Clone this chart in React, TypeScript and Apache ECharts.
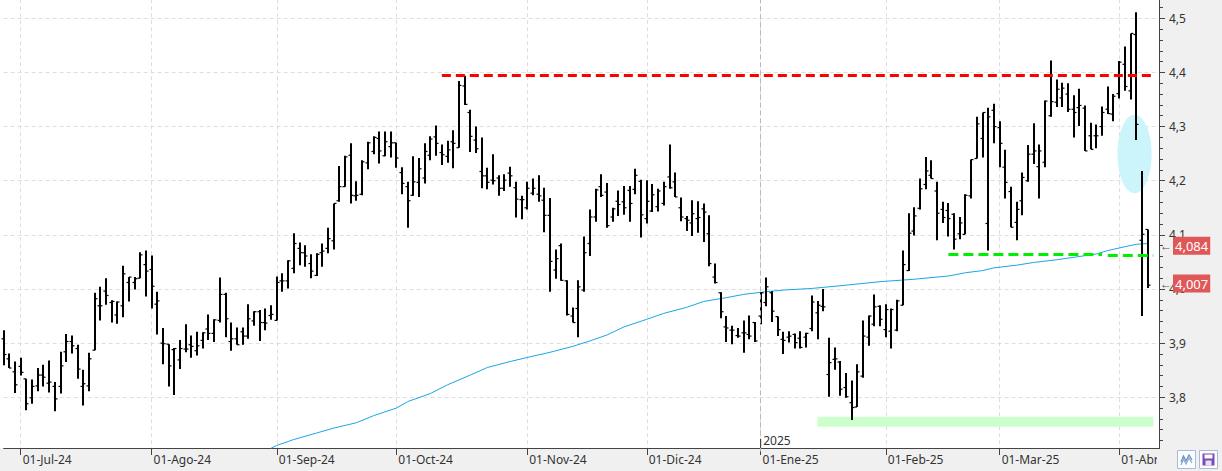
import React, { useEffect, useRef } from 'react';
import * as echarts from 'echarts';

const monthNames = ['Jun-24', 'Jul-24', 'Ago-24', 'Sep-24', 'Oct-24', 'Nov-24', 'Dic-24', 'Ene-25', 'Feb-25', 'Mar-25', 'Abr-25'];
const monthDays = [
  [26, 27, 28],
  [1, 2, 3, 4, 5, 8, 9, 10, 11, 12, 15, 16, 17, 18, 19, 22, 23, 24, 25, 26, 29, 30, 31],
  [1, 2, 5, 6, 7, 8, 9, 12, 13, 14, 15, 16, 19, 20, 21, 22, 23, 26, 27, 28, 29, 30],
  [2, 3, 4, 5, 6, 9, 10, 11, 12, 13, 16, 17, 18, 19, 20, 23, 24, 25, 26, 27, 30],
  [1, 2, 3, 4, 7, 8, 9, 10, 11, 14, 15, 16, 17, 18, 21, 22, 23, 24, 25, 28, 29, 30, 31],
  [1, 4, 5, 6, 7, 8, 11, 12, 13, 14, 15, 18, 19, 20, 21, 22, 25, 26, 27, 28, 29],
  [2, 3, 4, 5, 6, 9, 10, 11, 12, 13, 16, 17, 18, 19, 20, 23, 24, 27, 30, 31],
  [2, 3, 6, 7, 8, 9, 10, 13, 14, 15, 16, 17, 20, 21, 22, 23, 24, 27, 28, 29, 30, 31],
  [3, 4, 5, 6, 7, 10, 11, 12, 13, 14, 17, 18, 19, 20, 21, 24, 25, 26, 27, 28],
  [3, 4, 5, 6, 7, 10, 11, 12, 13, 14, 17, 18, 19, 20, 21, 24, 25, 26, 27, 28, 31],
  [1, 2, 3, 4, 7, 8],
];
const padCategories = ['pad1', 'pad2'];

const opens = [
  3.908, 3.871, 3.847, 3.857, 3.834, 3.799, 3.821, 3.841, 3.826, 3.820,
  3.820, 3.884, 3.903, 3.890, 3.820, 3.821, 3.887, 3.969, 3.996, 3.975,
  3.952, 3.969, 4.012, 4.012, 4.020, 4.045, 4.036, 3.972, 3.900, 3.898,
  3.888, 3.869, 3.889, 3.897, 3.886, 3.905, 3.926, 3.918, 3.942, 3.990,
  3.903, 3.908, 3.921, 3.913, 3.941, 3.958, 3.938, 3.951, 3.942, 4.015,
  4.015, 4.038, 4.075, 4.067, 4.047, 4.025, 4.067, 4.075, 4.089, 4.163,
  4.189, 4.247, 4.172, 4.175, 4.233, 4.254, 4.278, 4.246, 4.263, 4.270,
  4.215, 4.189, 4.173, 4.197, 4.205, 4.247, 4.281, 4.252, 4.245, 4.272,
  4.261, 4.375, 4.326, 4.275, 4.217, 4.209, 4.201, 4.205, 4.186, 4.214,
  4.187, 4.165, 4.150, 4.177, 4.175, 4.164, 4.136, 4.035, 4.080, 4.015,
  3.950, 3.964, 3.998, 4.084, 4.133, 4.189, 4.179, 4.133, 4.162, 4.161,
  4.182, 4.184, 4.199, 4.130, 4.144, 4.152, 4.158, 4.207, 4.198, 4.150,
  4.130, 4.122, 4.130, 4.148, 4.102, 4.022, 3.993, 3.930, 3.924, 3.914,
  3.919, 3.916, 3.938, 3.950, 3.975, 3.993, 3.949, 3.907, 3.911, 3.916,
  3.909, 3.911, 3.927, 3.956, 3.968, 3.842, 3.870, 3.865, 3.818, 3.790,
  3.782, 3.839, 3.911, 3.935, 3.968, 3.925, 3.922, 3.924, 3.970, 4.034,
  4.107, 4.149, 4.193, 4.210, 4.181, 4.147, 4.145, 4.138, 4.102, 4.101,
  4.172, 4.241, 4.278, 4.121, 4.330, 4.298, 4.225, 4.180, 4.123, 4.163,
  4.200, 4.249, 4.226, 4.234, 4.320, 4.345, 4.353, 4.360, 4.332, 4.335,
  4.334, 4.283, 4.283, 4.300, 4.332, 4.323, 4.361, 4.415, 4.366, 4.470,
  4.090, 4.110,
];
const highs = [
  3.924, 3.881, 3.866, 3.873, 3.834, 3.833, 3.854, 3.860, 3.868, 3.828,
  3.884, 3.917, 3.914, 3.897, 3.851, 3.882, 3.993, 4.004, 4.020, 3.979,
  3.977, 4.043, 4.022, 4.022, 4.068, 4.071, 4.062, 3.995, 3.928, 3.898,
  3.891, 3.906, 3.935, 3.914, 3.921, 3.920, 3.953, 3.944, 4.021, 3.993,
  3.938, 3.929, 3.929, 3.972, 3.959, 3.961, 3.964, 3.970, 4.023, 4.029,
  4.053, 4.103, 4.086, 4.081, 4.064, 4.066, 4.084, 4.113, 4.158, 4.227,
  4.246, 4.269, 4.199, 4.238, 4.272, 4.282, 4.291, 4.291, 4.291, 4.270,
  4.225, 4.198, 4.245, 4.242, 4.269, 4.282, 4.302, 4.267, 4.274, 4.293,
  4.384, 4.394, 4.331, 4.300, 4.280, 4.224, 4.249, 4.210, 4.212, 4.226,
  4.198, 4.172, 4.198, 4.204, 4.210, 4.187, 4.168, 4.073, 4.084, 4.016,
  3.966, 4.016, 4.097, 4.147, 4.185, 4.212, 4.196, 4.150, 4.182, 4.190,
  4.190, 4.222, 4.202, 4.201, 4.194, 4.185, 4.198, 4.267, 4.215, 4.169,
  4.135, 4.164, 4.162, 4.158, 4.136, 4.047, 3.994, 3.950, 3.932, 3.928,
  3.942, 3.951, 3.939, 3.994, 4.021, 3.996, 3.949, 3.921, 3.922, 3.918,
  3.922, 3.919, 3.988, 3.978, 4.000, 3.910, 3.892, 3.867, 3.845, 3.831,
  3.861, 3.942, 3.951, 3.990, 3.970, 3.972, 3.964, 3.980, 4.071, 4.140,
  4.151, 4.204, 4.244, 4.238, 4.198, 4.161, 4.159, 4.140, 4.133, 4.175,
  4.239, 4.318, 4.326, 4.335, 4.342, 4.310, 4.257, 4.189, 4.161, 4.215,
  4.266, 4.306, 4.267, 4.348, 4.422, 4.387, 4.381, 4.380, 4.358, 4.370,
  4.339, 4.307, 4.304, 4.337, 4.374, 4.360, 4.421, 4.448, 4.472, 4.511,
  4.218, 4.110,
];
const lows = [
  3.859, 3.854, 3.808, 3.840, 3.776, 3.788, 3.811, 3.820, 3.809, 3.774,
  3.807, 3.865, 3.881, 3.834, 3.785, 3.811, 3.887, 3.942, 3.971, 3.938,
  3.936, 3.948, 3.977, 3.999, 4.020, 3.986, 3.964, 3.916, 3.861, 3.820,
  3.804, 3.852, 3.883, 3.873, 3.877, 3.890, 3.906, 3.902, 3.938, 3.911,
  3.886, 3.897, 3.897, 3.908, 3.932, 3.904, 3.924, 3.943, 3.942, 3.995,
  4.001, 4.029, 4.044, 4.041, 4.020, 4.024, 4.041, 4.066, 4.073, 4.161,
  4.189, 4.158, 4.163, 4.173, 4.221, 4.249, 4.232, 4.245, 4.243, 4.224,
  4.175, 4.113, 4.172, 4.170, 4.195, 4.238, 4.246, 4.229, 4.233, 4.223,
  4.261, 4.340, 4.253, 4.251, 4.186, 4.184, 4.193, 4.172, 4.181, 4.189,
  4.132, 4.129, 4.147, 4.173, 4.161, 4.105, 3.995, 4.019, 4.015, 3.951,
  3.938, 3.911, 3.995, 4.061, 4.124, 4.170, 4.113, 4.124, 4.135, 4.137,
  4.124, 4.175, 4.095, 4.121, 4.142, 4.143, 4.154, 4.185, 4.170, 4.125,
  4.107, 4.098, 4.104, 4.087, 4.042, 4.010, 3.946, 3.902, 3.898, 3.910,
  3.882, 3.907, 3.902, 3.935, 3.968, 3.939, 3.913, 3.880, 3.901, 3.890,
  3.890, 3.892, 3.922, 3.907, 3.959, 3.801, 3.851, 3.803, 3.799, 3.758,
  3.782, 3.836, 3.895, 3.931, 3.931, 3.911, 3.890, 3.922, 3.970, 4.033,
  4.099, 4.147, 4.184, 4.204, 4.090, 4.122, 4.097, 4.073, 4.092, 4.101,
  4.167, 4.241, 4.243, 4.071, 4.269, 4.225, 4.167, 4.114, 4.090, 4.136,
  4.198, 4.231, 4.167, 4.225, 4.318, 4.336, 4.336, 4.327, 4.280, 4.301,
  4.255, 4.258, 4.260, 4.283, 4.323, 4.310, 4.352, 4.366, 4.350, 4.275,
  3.950, 4.002,
];
const closes = [
  3.879, 3.854, 3.823, 3.846, 3.788, 3.820, 3.841, 3.837, 3.828, 3.797,
  3.858, 3.903, 3.895, 3.852, 3.825, 3.871, 3.982, 3.969, 3.988, 3.977,
  3.976, 4.028, 4.022, 4.019, 4.063, 4.033, 4.005, 3.978, 3.899, 3.858,
  3.890, 3.890, 3.889, 3.894, 3.895, 3.919, 3.918, 3.943, 3.990, 3.945,
  3.908, 3.897, 3.913, 3.945, 3.958, 3.938, 3.937, 3.953, 4.012, 4.015,
  4.052, 4.084, 4.067, 4.061, 4.033, 4.064, 4.070, 4.093, 4.158, 4.189,
  4.244, 4.173, 4.173, 4.235, 4.270, 4.280, 4.255, 4.272, 4.270, 4.242,
  4.195, 4.163, 4.198, 4.222, 4.254, 4.277, 4.269, 4.248, 4.257, 4.269,
  4.376, 4.341, 4.282, 4.259, 4.209, 4.197, 4.200, 4.186, 4.201, 4.209,
  4.166, 4.165, 4.186, 4.186, 4.172, 4.136, 4.051, 4.056, 4.016, 3.953,
  3.938, 4.004, 4.067, 4.133, 4.183, 4.173, 4.117, 4.148, 4.156, 4.150,
  4.158, 4.210, 4.137, 4.162, 4.174, 4.181, 4.189, 4.187, 4.170, 4.133,
  4.127, 4.139, 4.132, 4.142, 4.047, 4.012, 3.958, 3.928, 3.924, 3.913,
  3.919, 3.913, 3.904, 3.993, 4.004, 3.959, 3.925, 3.905, 3.913, 3.901,
  3.892, 3.918, 3.976, 3.970, 3.967, 3.864, 3.871, 3.815, 3.801, 3.781,
  3.847, 3.913, 3.950, 3.967, 3.944, 3.962, 3.962, 3.978, 4.045, 4.103,
  4.135, 4.185, 4.218, 4.204, 4.140, 4.132, 4.130, 4.092, 4.122, 4.173,
  4.239, 4.305, 4.326, 4.318, 4.300, 4.269, 4.197, 4.114, 4.147, 4.206,
  4.249, 4.255, 4.255, 4.347, 4.346, 4.369, 4.371, 4.332, 4.326, 4.339,
  4.255, 4.258, 4.283, 4.326, 4.324, 4.356, 4.419, 4.374, 4.472, 4.304,
  4.101, 4.007,
];

// 200-day moving average (bar index / value)
const maIdx = [47, 48, 51, 55, 58, 62, 65, 69, 71, 75, 78, 82, 85, 89, 93, 96, 100, 103, 106, 109, 113, 116, 120, 123, 127, 130, 134, 137, 142, 148, 154, 160, 166, 169, 172, 174, 178, 181, 185, 188, 192, 194, 197, 199, 201];
const maVal = [3.706, 3.711, 3.722, 3.734, 3.743, 3.753, 3.766, 3.780, 3.792, 3.807, 3.823, 3.841, 3.855, 3.866, 3.876, 3.883, 3.894, 3.904, 3.915, 3.930, 3.944, 3.955, 3.966, 3.977, 3.984, 3.990, 3.995, 3.998, 4.001, 4.007, 4.0135, 4.018, 4.024, 4.030, 4.034, 4.039, 4.044, 4.049, 4.054, 4.0585, 4.0646, 4.071, 4.078, 4.0826, 4.084];

// annotations
const resistanceLevel = 4.3947;
const resistanceRange = [77, 202];
const supportLevels = [4.065, 4.0615];
const supportRanges = [[166, 193], [194, 202]];
const bandRange = [143, 202];
const bandValues = [3.7641, 3.7457];
const ellipseSpec = [199, 4.2494, 198.7, 3, 0.0724]; // [anchorIdx, centerValue, centerIdx, radiusInBars, radiusInValue]
const yearMarkIdx = 133;
const yearLabel = '2025';

const yTickLabels = (v: number) => v.toFixed(1).replace('.', ',');
const fmt3 = (v: number) => v.toFixed(3).replace('.', ',');

const priceTag = (value: number) => ({
  show: true,
  position: 'end',
  distance: 1,
  formatter: '{a|←}{b|' + fmt3(value) + '}',
  rich: {
    a: { color: '#555', fontSize: 12, padding: [0, 1, 0, 0] },
    b: { backgroundColor: '#e05757', color: '#fff', fontSize: 13, padding: [3, 2, 2, 2] },
  },
});

export default function App() {
  const ref = useRef<HTMLDivElement>(null);

  useEffect(() => {
    if (!ref.current) return;
    const chart = echarts.init(ref.current, null, { renderer: 'svg' });

    const categories: string[] = [];
    const monthStarts = new Set<number>();
    monthDays.forEach((days, m) => {
      days.forEach((d, k) => {
        if (k === 0 && m > 0) monthStarts.add(categories.length);
        categories.push((d < 10 ? '0' : '') + d + '-' + monthNames[m]);
      });
    });
    padCategories.forEach((p) => categories.push(p));

    const ohlc = opens.map((o, i) => [i, o, highs[i], lows[i], closes[i]]);
    const ma = maIdx.map((i, k) => [i, maVal[k]]);
    const isStart = (idx: number) => monthStarts.has(idx);
    const lastMa = maVal[maVal.length - 1];
    const lastClose = closes[closes.length - 1];

    const gridColor = '#dedede';
    const splitColors = ['rgba(0,0,0,0)'];
    for (let k = 0; k < 12; k++) splitColors.push(gridColor);

    const option: any = {
      animation: false,
      backgroundColor: '#f0f0f0',
      textStyle: { fontFamily: 'Noto Sans' },
      grid: { left: 3.6, right: 63, top: -35.84, bottom: 19.6, outerBoundsMode: 'none', containLabel: false },
      xAxis: {
        type: 'category',
        data: categories,
        boundaryGap: false,
        offset: -3.4,
        axisLine: { show: true, lineStyle: { color: '#444', width: 1 } },
        axisTick: { show: true, interval: (i: number) => isStart(i), length: 7, lineStyle: { color: '#444' } },
        axisLabel: {
          show: true,
          interval: (i: number) => isStart(i),
          formatter: (v: string) => '01-' + v.slice(3),
          align: 'left',
          padding: [0, 0, 0, 2],
          margin: 5,
          color: '#333',
          fontSize: 12,
        },
        splitLine: { show: true, interval: (i: number) => isStart(i), lineStyle: { color: gridColor, type: [4, 3], width: 1 } },
      },
      yAxis: {
        type: 'value',
        position: 'right',
        min: 3.7,
        max: 4.6,
        interval: 0.1,
        axisLine: { show: true, lineStyle: { color: '#444', width: 1 } },
        axisTick: { show: true, length: 6, lineStyle: { color: '#444' } },
        minorTick: { show: true, splitNumber: 5, length: 4, lineStyle: { color: '#444' } },
        axisLabel: { formatter: yTickLabels, color: '#333', fontSize: 12, margin: 10, showMinLabel: false, showMaxLabel: false },
        splitLine: { show: true, lineStyle: { color: splitColors, type: [4, 3], width: 1 } },
      },
      graphic: [
        { type: 'rect', silent: true, z: -100, shape: { x: 0, y: 0, width: 1159, height: 448 }, style: { fill: '#ffffff' } },
        { type: 'rect', silent: true, z: 100, shape: { x: 1157, y: 449, width: 65, height: 22 }, style: { fill: '#f0f0f0' } },
        { type: 'rect', silent: true, z: 101, shape: { x: 1177.5, y: 450.5, width: 18, height: 18 }, style: { fill: '#fafcff', stroke: '#a9bcd6', lineWidth: 1 } },
        { type: 'polyline', silent: true, z: 102, shape: { points: [[1181, 462], [1183.5, 456], [1186, 461], [1189, 455], [1192, 460]] }, style: { stroke: '#5b8fc9', lineWidth: 1.2, fill: 'none' } },
        { type: 'polyline', silent: true, z: 102, shape: { points: [[1181, 465], [1183.5, 459], [1186, 464], [1189, 458], [1192, 463]] }, style: { stroke: '#8aa9c9', lineWidth: 1.2, fill: 'none' } },
        { type: 'rect', silent: true, z: 101, shape: { x: 1199.5, y: 450.5, width: 18, height: 18 }, style: { fill: '#fafcff', stroke: '#a9bcd6', lineWidth: 1 } },
        { type: 'rect', silent: true, z: 102, shape: { x: 1202.5, y: 453.5, width: 12, height: 12 }, style: { fill: '#7a4bb8' } },
        { type: 'rect', silent: true, z: 103, shape: { x: 1204.5, y: 454.5, width: 8, height: 4 }, style: { fill: '#ffffff' } },
        { type: 'rect', silent: true, z: 103, shape: { x: 1205.5, y: 460.5, width: 6, height: 5 }, style: { fill: '#e8e0f4' } },
      ],
      series: [
        {
          type: 'custom',
          name: 'zone',
          z: 1,
          silent: true,
          data: [ellipseSpec],
          encode: { x: 0, y: 1 },
          renderItem: (params: any, api: any) => {
            const anchor = api.value(0);
            const cv = api.value(1);
            const cIdx = api.value(2);
            const rBars = api.value(3);
            const rVal = api.value(4);
            const p0 = api.coord([anchor, cv]);
            const p1 = api.coord([anchor + 1, cv]);
            const step = p1[0] - p0[0];
            const cx = p0[0] + (cIdx - anchor) * step;
            const pTop = api.coord([anchor, cv + rVal]);
            return {
              type: 'ellipse',
              shape: { cx, cy: p0[1], rx: rBars * step, ry: p0[1] - pTop[1] },
              style: { fill: '#cbf4fb' },
            };
          },
          markArea: {
            silent: true,
            itemStyle: { color: '#ccffcc', opacity: 1 },
            label: { show: false },
            data: [[{ coord: [bandRange[0], bandValues[0]] }, { coord: [bandRange[1], bandValues[1]] }]],
          },
          markLine: {
            silent: true,
            symbol: ['none', 'none'],
            label: { show: false },
            lineStyle: { color: '#b9b9b9', type: [5, 3], width: 1 },
            data: [{ xAxis: categories[yearMarkIdx] }],
          },
        },
        {
          type: 'line',
          name: 'MA',
          z: 2,
          data: ma,
          showSymbol: false,
          symbol: 'none',
          lineStyle: { color: '#1aa6e8', width: 1 },
          markLine: {
            silent: true,
            symbol: ['none', 'none'],
            lineStyle: { color: 'rgba(0,0,0,0)', width: 0 },
            label: priceTag(lastMa),
            data: [{ yAxis: lastMa }],
          },
        },
        {
          type: 'custom',
          name: 'price',
          z: 3,
          silent: true,
          data: ohlc,
          encode: { x: 0, y: [1, 2, 3, 4] },
          renderItem: (params: any, api: any) => {
            const i = api.value(0);
            const pO = api.coord([i, api.value(1)]);
            const pH = api.coord([i, api.value(2)]);
            const pL = api.coord([i, api.value(3)]);
            const pC = api.coord([i, api.value(4)]);
            const x = Math.round(pO[0]);
            return {
              type: 'group',
              children: [
                { type: 'line', shape: { x1: x, y1: pH[1], x2: x, y2: pL[1] }, style: { stroke: '#000', lineWidth: 2 } },
                { type: 'line', shape: { x1: x - 2.5, y1: pO[1], x2: x, y2: pO[1] }, style: { stroke: '#000', lineWidth: 1.2 } },
                { type: 'line', shape: { x1: x, y1: pC[1], x2: x + 2.5, y2: pC[1] }, style: { stroke: '#000', lineWidth: 1.2 } },
              ],
            };
          },
          markLine: {
            silent: true,
            symbol: ['none', 'none'],
            label: { show: false },
            data: [
              [
                { coord: [resistanceRange[0], resistanceLevel], lineStyle: { color: '#ff0000', width: 3, type: [9, 5] } },
                { coord: [resistanceRange[1], resistanceLevel] },
              ],
              [
                { coord: [supportRanges[0][0], supportLevels[0]], lineStyle: { color: '#00ee00', width: 3, type: [10, 5] } },
                { coord: [supportRanges[0][1], supportLevels[0]] },
              ],
              [
                { coord: [supportRanges[1][0], supportLevels[1]], lineStyle: { color: '#00ee00', width: 3, type: [10, 5] } },
                { coord: [supportRanges[1][1], supportLevels[1]] },
              ],
              {
                yAxis: lastClose,
                lineStyle: { color: 'rgba(0,0,0,0)', width: 0 },
                label: priceTag(lastClose),
              },
            ],
          },
          markPoint: {
            silent: true,
            data: [
              {
                coord: [yearMarkIdx, 3.7],
                symbol: 'rect',
                symbolSize: [1.2, 9],
                symbolOffset: [0, -8],
                itemStyle: { color: '#444' },
                label: { show: true, formatter: yearLabel, position: 'right', distance: 2, offset: [0, -3], color: '#333', fontSize: 12 },
              },
            ],
          },
        },
      ],
    };

    chart.setOption(option);
    return () => chart.dispose();
  }, []);

  return <div ref={ref} style={{ position: 'fixed', left: 0, top: 0, width: 1222, height: 471 }} />;
}
